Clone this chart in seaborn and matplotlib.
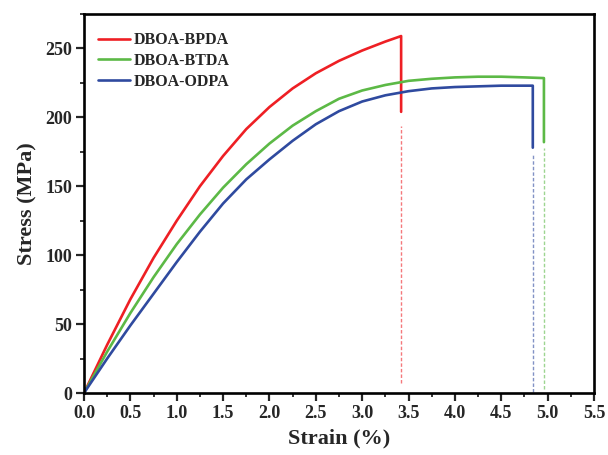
import numpy as np
import pandas as pd
import matplotlib
matplotlib.use("Agg")
import matplotlib.pyplot as plt
import seaborn as sns
from matplotlib.ticker import MultipleLocator

# ---- data ----
series_names = ["DBOA-BPDA", "DBOA-BTDA", "DBOA-ODPA"]

bpda_strain = [0, 0.25, 0.5, 0.75, 1.0, 1.25, 1.5, 1.75, 2.0, 2.25, 2.5, 2.75, 3.0, 3.25, 3.42, 3.42]
bpda_stress = [0, 35, 68, 98, 125, 150, 172, 191.5, 207.5, 221, 232, 241, 248.5, 255, 259, 204]

btda_strain = [0, 0.25, 0.5, 0.75, 1.0, 1.25, 1.5, 1.75, 2.0, 2.25, 2.5, 2.75, 3.0, 3.25, 3.5,
               3.75, 4.0, 4.25, 4.5, 4.75, 4.96, 4.96]
btda_stress = [0, 30, 58, 84, 108, 129.5, 149, 166, 181, 194, 204.5, 213.5, 219.5, 223.5, 226.5,
               228, 229, 229.5, 229.5, 229, 228.5, 182]

odpa_strain = [0, 0.25, 0.5, 0.75, 1.0, 1.25, 1.5, 1.75, 2.0, 2.25, 2.5, 2.75, 3.0, 3.25, 3.5,
               3.75, 4.0, 4.25, 4.5, 4.75, 4.84, 4.84]
odpa_stress = [0, 25, 49, 72, 95, 117, 137.5, 155, 169.5, 183, 195, 204.5, 211.5, 216, 219,
               221, 222, 222.5, 223, 223, 223, 178]

break_strain = [3.42, 4.96, 4.84]
break_dash_top = [194, 177.5, 172.5]
break_dash_bottom = [7.5, 3, 1]

x_ticks = [0.0, 0.5, 1.0, 1.5, 2.0, 2.5, 3.0, 3.5, 4.0, 4.5, 5.0, 5.5]
y_ticks = [0, 50, 100, 150, 200, 250]

colors = ["#ee1f24", "#5cb946", "#2f4a9f"]

# ---- build long table ----
frames = []
for name, xs, ys in zip(series_names,
                        [bpda_strain, btda_strain, odpa_strain],
                        [bpda_stress, btda_stress, odpa_stress]):
    frames.append(pd.DataFrame({"Strain": xs, "Stress": ys, "Sample": name}))
df = pd.concat(frames, ignore_index=True)

sns.set_style("ticks")
plt.rcParams["font.family"] = ["Liberation Serif", "DejaVu Serif"]
plt.rcParams["font.weight"] = "bold"

fig = plt.figure(figsize=(6.08, 4.55), dpi=100)
ax = fig.add_axes([84 / 608, 1 - 393 / 455, (594 - 84) / 608, (393 - 14) / 455])

sns.lineplot(data=df, x="Strain", y="Stress", hue="Sample", palette=colors,
             estimator=None, sort=False, linewidth=1.9, ax=ax)

# dashed fracture markers
for xb, yt, yb, c in zip(break_strain, break_dash_top, break_dash_bottom, colors):
    sns.lineplot(x=[xb, xb], y=[yb, yt], color=c, linewidth=1.0, alpha=0.6,
                 linestyle=(0, (2.5, 1.5)), ax=ax, estimator=None, sort=False)

ax.set_xlim(0, 5.5)
ax.set_ylim(0, 275)
ax.set_xticks(x_ticks)
ax.set_xticklabels([f"{v:.1f}" for v in x_ticks])
ax.set_yticks(y_ticks)
ax.xaxis.set_minor_locator(MultipleLocator(0.25))
ax.yaxis.set_minor_locator(MultipleLocator(25))

ax.tick_params(axis="both", which="major", direction="out", length=5.5, width=1.6,
               labelsize=13, pad=3)
ax.tick_params(axis="both", which="minor", direction="out", length=3, width=1.3)
for lab in ax.get_xticklabels() + ax.get_yticklabels():
    lab.set_fontweight("bold")

for sp in ax.spines.values():
    sp.set_visible(True)
    sp.set_linewidth(1.9)
    sp.set_color("black")

ax.set_xlabel("Strain (%)", fontsize=16, fontweight="bold", labelpad=5)
ax.set_ylabel("Stress (MPa)", fontsize=16, fontweight="bold", labelpad=6)

leg = ax.legend(loc="upper left", bbox_to_anchor=(0.0, 0.99), frameon=False,
                fontsize=11.5, handlelength=2.0, handletextpad=0.2, labelspacing=0.3,
                borderaxespad=0.5)
for t in leg.get_texts():
    t.set_fontweight("bold")
for h in leg.get_lines():
    h.set_linewidth(1.9)

fig.savefig("out.png", dpi=100)
